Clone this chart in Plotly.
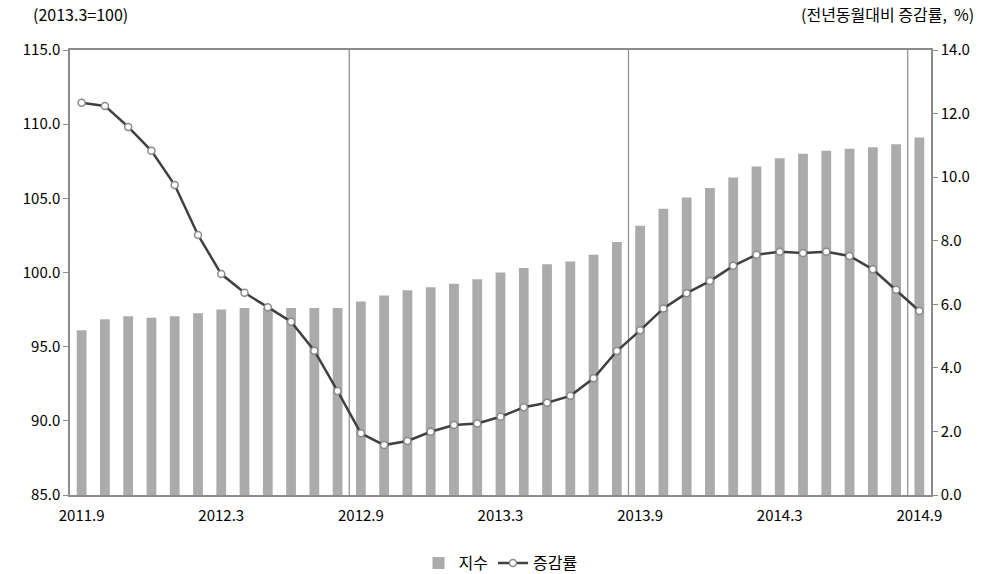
import plotly.graph_objects as go

months = ["2011.9", "2011.10", "2011.11", "2011.12",
          "2012.1", "2012.2", "2012.3", "2012.4", "2012.5", "2012.6", "2012.7", "2012.8",
          "2012.9", "2012.10", "2012.11", "2012.12",
          "2013.1", "2013.2", "2013.3", "2013.4", "2013.5", "2013.6", "2013.7", "2013.8",
          "2013.9", "2013.10", "2013.11", "2013.12",
          "2014.1", "2014.2", "2014.3", "2014.4", "2014.5", "2014.6", "2014.7", "2014.8",
          "2014.9"]

index_vals = [96.1, 96.85, 97.05, 96.95, 97.05, 97.25, 97.5, 97.6, 97.6, 97.6, 97.6, 97.6,
              98.05, 98.45, 98.8, 99.0, 99.25, 99.55, 100.0, 100.3, 100.55, 100.75, 101.2, 102.05,
              103.15, 104.3, 105.05, 105.7, 106.4, 107.15, 107.7, 108.0, 108.2, 108.35, 108.45, 108.65,
              109.1]

growth_vals = [12.34, 12.24, 11.58, 10.83, 9.75, 8.18, 6.95, 6.36, 5.91, 5.45, 4.54, 3.27,
               1.94, 1.57, 1.70, 1.99, 2.20, 2.25, 2.46, 2.76, 2.90, 3.12, 3.67, 4.53,
               5.18, 5.87, 6.35, 6.73, 7.21, 7.56, 7.65, 7.61, 7.65, 7.52, 7.10, 6.46,
               5.79]

tick_labels = ["2011.9", "2012.3", "2012.9", "2013.3", "2013.9", "2014.3", "2014.9"]
separators = [11.5, 23.5, 35.5]

FONT = "Noto Sans CJK KR"

fig = go.Figure()
fig.add_trace(go.Bar(
    x=months, y=index_vals, name="지수",
    marker=dict(color="#ababab", line=dict(width=0)),
    width=0.42,
))
fig.add_trace(go.Scatter(
    x=months, y=growth_vals, name="증감률", yaxis="y2",
    mode="lines+markers",
    line=dict(color="#404040", width=2.5),
    marker=dict(symbol="circle", size=7, color="white",
                line=dict(color="#8a8a8a", width=1.5)),
))

for s in separators:
    fig.add_shape(type="line", xref="x", yref="paper", x0=s, x1=s, y0=0, y1=1,
                  line=dict(color="#8c8c8c", width=1.2), layer="below")

fig.update_layout(
    width=988, height=574,
    margin=dict(l=70, r=57, t=50, b=79, autoexpand=False),
    plot_bgcolor="white", paper_bgcolor="white",
    font=dict(family=FONT, size=15, color="black"),
    showlegend=True,
    legend=dict(orientation="h", x=0.5, xanchor="center", y=-0.153, yanchor="middle",
                font=dict(family=FONT, size=16), traceorder="normal"),
    xaxis=dict(
        type="category",
        tickmode="array", tickvals=tick_labels, ticktext=tick_labels,
        range=[-0.5, 36.5],
        showline=True, linecolor="#8c8c8c", linewidth=1.5, mirror=True,
        showgrid=False, ticks="", tickangle=0, ticklabelstandoff=6,
        tickfont=dict(size=15),
    ),
    yaxis=dict(
        range=[85, 115], dtick=5, tickformat=".1f",
        showline=True, linecolor="#8c8c8c", linewidth=1.5,
        showgrid=False, ticks="outside", ticklen=5, tickcolor="#8c8c8c",
        zeroline=False, tickfont=dict(size=15),
    ),
    yaxis2=dict(
        range=[0, 14], dtick=2, tickformat=".1f",
        overlaying="y", side="right",
        showline=True, linecolor="#8c8c8c", linewidth=1.5,
        showgrid=False, ticks="outside", ticklen=5, tickcolor="#8c8c8c",
        zeroline=False, tickfont=dict(size=15),
    ),
    annotations=[
        dict(text="(2013.3=100)", xref="paper", yref="paper", x=-0.045, y=1.0,
             xanchor="left", yanchor="bottom", yshift=22, showarrow=False,
             font=dict(size=16)),
        dict(text="(전년동월대비 증감률,  %)", xref="paper", yref="paper", x=1.052, y=1.0,
             xanchor="right", yanchor="bottom", yshift=22, showarrow=False,
             font=dict(size=16)),
    ],
)

fig.write_html("out.html",
               config={"displayModeBar": False},
               post_script="document.body.style.margin='0';document.body.style.overflow='hidden';")
